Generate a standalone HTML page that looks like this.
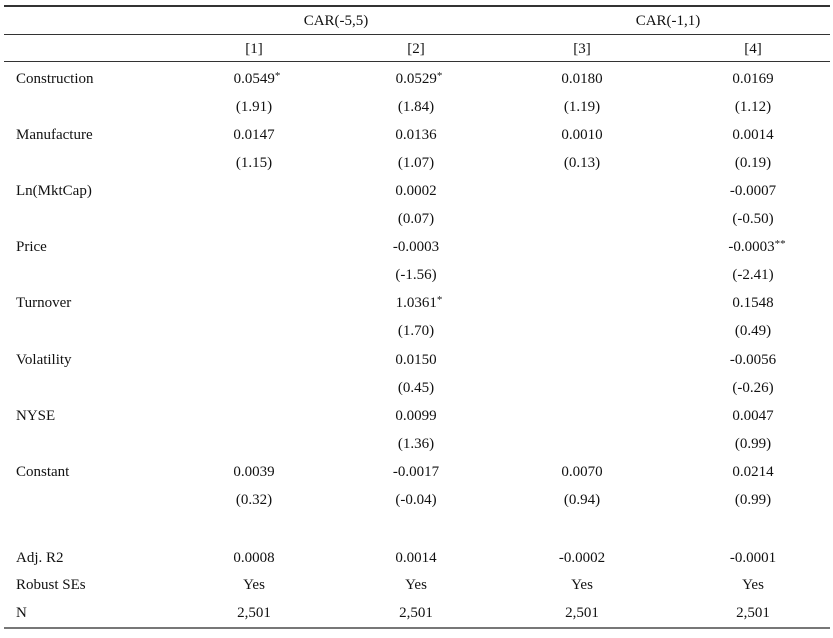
<!DOCTYPE html>
<html><head><meta charset="utf-8"><style>
body{margin:0;width:833px;height:638px;background:#fff;position:relative;font-family:"Liberation Serif",serif;font-size:15px;color:#111;}
.h{position:absolute;left:4px;width:826px;background:#333;}
.t{position:absolute;white-space:nowrap;line-height:18px;height:18px;}
.c{transform:translateX(-50%);}
.s{font-size:11px;position:relative;top:-4px;line-height:0;}
</style></head><body>
<div class="h" style="top:5px;height:1.5px"></div>
<div class="h" style="top:34px;height:1px"></div>
<div class="h" style="top:61px;height:1px"></div>
<div class="h" style="top:627px;height:2px;background:#777"></div>
<script>
function t(x,y,s,c){var d=document.createElement('div');d.className='t'+(c?' c':'');d.style.left=x+'px';d.style.top=(y-8)+'px';d.innerHTML=s;document.body.appendChild(d);}
t(336,20,'CAR(-5,5)',1);t(668,20,'CAR(-1,1)',1);
var X=[254,416,582,753];
['[1]','[2]','[3]','[4]'].forEach(function(s,i){t(X[i],48,s,1);});
var rows=[
['Construction',78,['0.0549*','0.0529*','0.0180','0.0169']],
['',106,['(1.91)','(1.84)','(1.19)','(1.12)']],
['Manufacture',134,['0.0147','0.0136','0.0010','0.0014']],
['',162,['(1.15)','(1.07)','(0.13)','(0.19)']],
['Ln(MktCap)',190,['','0.0002','','-0.0007']],
['',218,['','(0.07)','','(-0.50)']],
['Price',246,['','-0.0003','','-0.0003**']],
['',274,['','(-1.56)','','(-2.41)']],
['Turnover',302,['','1.0361*','','0.1548']],
['',330,['','(1.70)','','(0.49)']],
['Volatility',359,['','0.0150','','-0.0056']],
['',387,['','(0.45)','','(-0.26)']],
['NYSE',415,['','0.0099','','0.0047']],
['',443,['','(1.36)','','(0.99)']],
['Constant',471,['0.0039','-0.0017','0.0070','0.0214']],
['',499,['(0.32)','(-0.04)','(0.94)','(0.99)']],
['Adj. R2',557,['0.0008','0.0014','-0.0002','-0.0001']],
['Robust SEs',584,['Yes','Yes','Yes','Yes']],
['N',612,['2,501','2,501','2,501','2,501']]];
rows.forEach(function(r){if(r[0])t(16,r[1],r[0]);r[2].forEach(function(s,i){if(s)t(X[i]+(s.slice(-1)=='*'?(s.slice(-2)=='**'?4:3):0),r[1],s.replace(/(\*+)$/,'<span class="s">$1</span>'),1);});});
</script>
</body></html>
